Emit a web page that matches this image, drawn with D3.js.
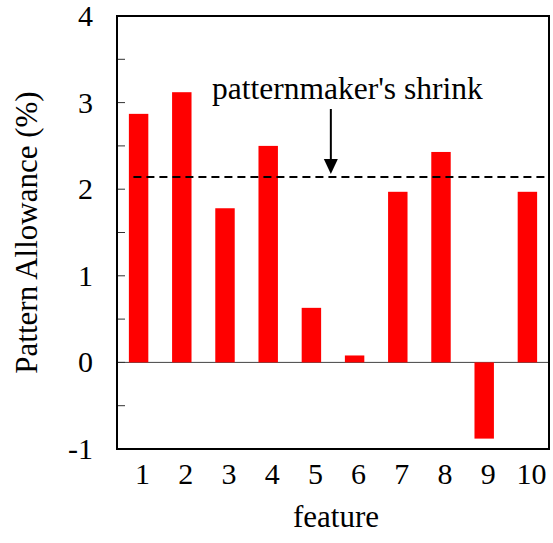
<!DOCTYPE html>
<html>
<head>
<meta charset="utf-8">
<script src="https://cdn.jsdelivr.net/npm/d3@7"></script>
<style>
body { margin: 0; background: #fff; }
text { font-family: "Liberation Serif", "Times New Roman", serif; fill: #000; }
</style>
</head>
<body>
<div id="canvas"></div>
<script>
// ----------------------------------------------------------
// DATA -----------------------------------------------------
// ----------------------------------------------------------

var features = [1, 2, 3, 4, 5, 6, 7, 8, 9, 10];
var allowance = [2.87, 3.12, 1.78, 2.50, 0.63, 0.08, 1.97, 2.43, -0.88, 1.97];
var y_ticks = [-1, 0, 1, 2, 3, 4];
var y_minor = [-0.5, 0.5, 1.5, 2.5, 3.5];
var shrink = [2.14];
var shrink_label = "patternmaker's shrink";


// ----------------------------------------------------------
// STRUCTURE ------------------------------------------------
// ----------------------------------------------------------

var w = 553, h = 543;
var plot_left = 117, plot_right = 549, plot_top = 16, plot_bottom = 449;

var container = d3.select("#canvas").append("svg")
.attr("width", w)
.attr("height", h);

var xScale = d3.scaleLinear()
.domain([0.5, 10.5])
.range([plot_left, plot_right]);

var yScale = d3.scaleLinear()
.domain([-1, 4])
.range([plot_bottom, plot_top]);

var bar_w = xScale(1.45) - xScale(1);


// ----------------------------------------------------------
// GFX ------------------------------------------------------
// ----------------------------------------------------------

// zero line
container.append("line")
.attr("x1", plot_left).attr("x2", plot_right)
.attr("y1", yScale(0)).attr("y2", yScale(0))
.attr("stroke", "#444")
.attr("stroke-width", 1);

// bars
container.selectAll(".bar")
.data(features)
.enter()
.append("rect")
.attr("class", "bar")
.attr("x", (d) => xScale(d) - bar_w / 2)
.attr("y", (d, i) => yScale(Math.max(0, allowance[i])))
.attr("width", bar_w)
.attr("height", (d, i) => Math.abs(yScale(allowance[i]) - yScale(0)))
.style("fill", "#ff0000");

// dashed shrink line
container.selectAll(".shrink")
.data(shrink)
.enter()
.append("line")
.attr("x1", xScale(0.88)).attr("x2", plot_right)
.attr("y1", (d) => yScale(d)).attr("y2", (d) => yScale(d))
.attr("stroke", "#000")
.attr("stroke-width", 2)
.attr("stroke-dasharray", "8,5");

// arrow
var arrow_x = xScale(5.45);
var arrow_tip = yScale(shrink[0]) - 3;
container.append("line")
.attr("x1", arrow_x).attr("x2", arrow_x)
.attr("y1", 109).attr("y2", arrow_tip - 13)
.attr("stroke", "#000")
.attr("stroke-width", 2);
container.append("path")
.attr("d", `M${arrow_x - 7},${arrow_tip - 15} L${arrow_x + 7},${arrow_tip - 15} L${arrow_x},${arrow_tip} Z`)
.style("fill", "#000");

container.append("text")
.attr("x", 212)
.attr("y", 99)
.style("font-size", "31.5px")
.text(shrink_label);

// y ticks (inward)
container.selectAll(".ytick")
.data(y_ticks.concat(y_minor))
.enter()
.append("line")
.attr("x1", plot_left).attr("x2", plot_left + 8)
.attr("y1", (d) => yScale(d)).attr("y2", (d) => yScale(d))
.attr("stroke", "#333")
.attr("stroke-width", 1);

// frame
container.append("rect")
.attr("x", plot_left).attr("y", plot_top)
.attr("width", plot_right - plot_left).attr("height", plot_bottom - plot_top)
.attr("fill", "none")
.attr("stroke", "#000")
.attr("stroke-width", 2);


// ----------------------------------------------------------
// TEXT -----------------------------------------------------
// ----------------------------------------------------------

container.selectAll(".ylabel")
.data(y_ticks)
.enter()
.append("text")
.attr("x", 93)
.attr("y", (d) => yScale(d) + 10)
.attr("text-anchor", "end")
.style("font-size", "30px")
.text((d) => d);

container.selectAll(".xlabel")
.data(features)
.enter()
.append("text")
.attr("x", (d) => xScale(d) + 4)
.attr("y", 484)
.attr("text-anchor", "middle")
.style("font-size", "30px")
.text((d) => d);

container.append("text")
.attr("x", 336)
.attr("y", 527)
.attr("text-anchor", "middle")
.style("font-size", "31px")
.text("feature");

container.append("text")
.attr("transform", `translate(37, ${(plot_top + plot_bottom) / 2}) rotate(-90)`)
.attr("text-anchor", "middle")
.style("font-size", "31px")
.text("Pattern Allowance (%)");
</script>
</body>
</html>
